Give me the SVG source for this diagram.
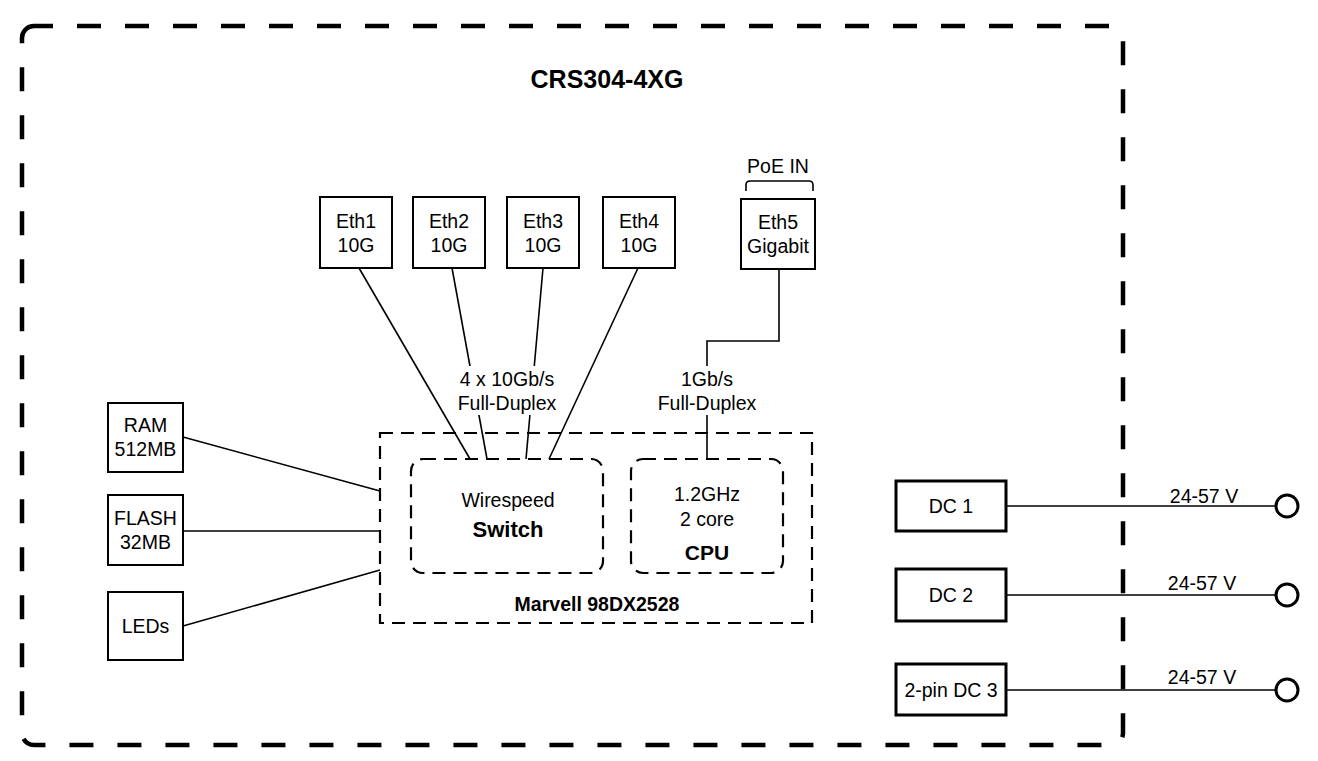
<svg xmlns="http://www.w3.org/2000/svg" width="1318" height="761" viewBox="0 0 1318 761">
<style>
text{font-family:"Liberation Sans",Arial,sans-serif;font-size:19.5px;fill:#000;text-anchor:middle}
.b{font-weight:bold}
.box{fill:#fff;stroke:#000;stroke-width:2}
.dc{fill:#fff;stroke:#000;stroke-width:3}
.ln{fill:none;stroke:#000;stroke-width:1.6}
.dash{fill:none;stroke:#000;stroke-width:2.2;stroke-dasharray:13 8}
.bg{fill:#fff}
</style>
<rect width="1318" height="761" fill="#fff"/>
<g id="device">
<rect x="22" y="26" width="1101" height="719" rx="12" fill="none" stroke="#000" stroke-width="4.5" stroke-dasharray="24 24" stroke-dashoffset="5"/>
<text x="607" y="88" class="b" style="font-size:25px">CRS304-4XG</text>
</g>
<g id="marvell">
<rect x="380" y="433" width="432" height="190" class="dash"/>
<text x="597" y="611" class="b" style="font-size:19.5px">Marvell 98DX2528</text>
</g>
<g id="connectors">
<line x1="359" y1="268" x2="470" y2="459" class="ln"/>
<line x1="452" y1="268" x2="487" y2="459" class="ln"/>
<line x1="543" y1="268" x2="526" y2="459" class="ln"/>
<line x1="638" y1="268" x2="549" y2="459" class="ln"/>
<polyline points="779,269 779,341 707,341 707,459" class="ln" stroke-width="2"/>
<line x1="183" y1="437" x2="380" y2="491" class="ln"/>
<line x1="183" y1="531" x2="380" y2="531" class="ln"/>
<line x1="183" y1="626" x2="380" y2="570" class="ln"/>
<line x1="1006" y1="506" x2="1276" y2="506" class="ln"/>
<line x1="1006" y1="595" x2="1276" y2="595" class="ln"/>
<line x1="1006" y1="690" x2="1276" y2="690" class="ln"/>
<path d="M746,191 V185 Q746,181 750,181 H809 Q813,181 813,185 V191" class="ln"/>
</g>
<g id="label-10g">
<rect x="456" y="366" width="103" height="49" class="bg"/>
<text x="507" y="386">4 x 10Gb/s</text>
<text x="507" y="410">Full-Duplex</text>
</g>
<g id="label-1g">
<rect x="657" y="366" width="100" height="49" class="bg"/>
<text x="707" y="386">1Gb/s</text>
<text x="707" y="410">Full-Duplex</text>
</g>
<g id="switch">
<rect x="411" y="459" width="192" height="114" rx="12" class="dash"/>
<text x="508" y="507">Wirespeed</text>
<text x="508" y="537" class="b" style="font-size:22px">Switch</text>
</g>
<g id="cpu">
<rect x="631" y="459" width="152" height="114" rx="12" class="dash"/>
<text x="707" y="501">1.2GHz</text>
<text x="707" y="526">2 core</text>
<text x="707" y="560" class="b" style="font-size:21px">CPU</text>
</g>
<g id="eth1"><rect x="320" y="197" width="72" height="71" class="box"/><text x="356" y="228">Eth1</text><text x="356" y="252">10G</text></g>
<g id="eth2"><rect x="413" y="197" width="72" height="71" class="box"/><text x="449" y="228">Eth2</text><text x="449" y="252">10G</text></g>
<g id="eth3"><rect x="507" y="197" width="72" height="71" class="box"/><text x="543" y="228">Eth3</text><text x="543" y="252">10G</text></g>
<g id="eth4"><rect x="603" y="197" width="72" height="71" class="box"/><text x="639" y="228">Eth4</text><text x="639" y="252">10G</text></g>
<g id="eth5"><rect x="741" y="199" width="74" height="70" class="box"/><text x="778" y="229">Eth5</text><text x="778" y="253">Gigabit</text></g>
<g id="poe"><text x="778" y="173">PoE IN</text></g>
<g id="ram"><rect x="108" y="403" width="75" height="69" class="box"/><text x="145.5" y="432">RAM</text><text x="145.5" y="456">512MB</text></g>
<g id="flash"><rect x="108" y="495" width="75" height="70" class="box"/><text x="145.5" y="525">FLASH</text><text x="145.5" y="549">32MB</text></g>
<g id="leds"><rect x="108" y="592" width="75" height="68" class="box"/><text x="145.5" y="633">LEDs</text></g>
<g id="dc1"><rect x="896" y="481" width="110" height="50" class="dc"/><text x="951" y="513">DC 1</text></g>
<g id="dc2"><rect x="896" y="569" width="110" height="52" class="dc"/><text x="951" y="602">DC 2</text></g>
<g id="dc3"><rect x="896" y="664" width="110" height="51" class="dc"/><text x="951" y="697">2-pin DC 3</text></g>
<g id="in1"><circle cx="1287" cy="506" r="11" fill="#fff" stroke="#000" stroke-width="3"/><text x="1204" y="503">24-57 V</text></g>
<g id="in2"><circle cx="1287" cy="595" r="11" fill="#fff" stroke="#000" stroke-width="3"/><text x="1202" y="590">24-57 V</text></g>
<g id="in3"><circle cx="1287" cy="690" r="11" fill="#fff" stroke="#000" stroke-width="3"/><text x="1202" y="684">24-57 V</text></g>
</svg>
